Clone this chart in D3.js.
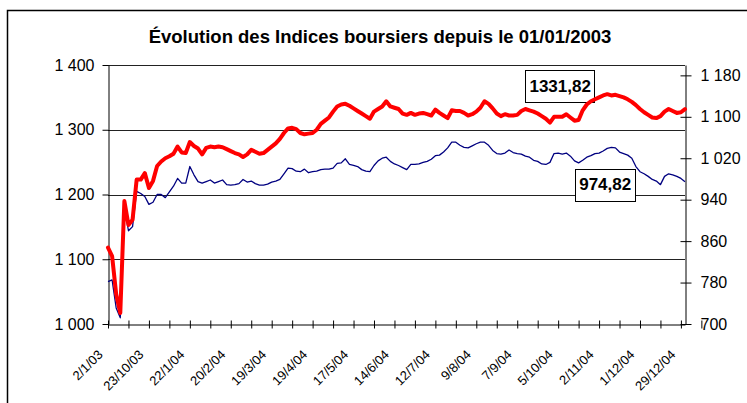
<!DOCTYPE html>
<html>
<head>
<meta charset="utf-8">
<script src="https://cdn.jsdelivr.net/npm/d3@7"></script>
<style>
body { margin: 0; background: #fff; }
svg { display: block; font-family: "Liberation Sans", Arial, sans-serif; }
</style>
</head>
<body>
<svg id="chart"></svg>
<script>
const width = 747;
const height = 403;

const title = "Évolution des Indices boursiers depuis le 01/01/2003";

// one label every 20 categories, one tick every 10
const dateLabels = ["2/1/03", "23/10/03", "22/1/04", "20/2/04", "19/3/04", "19/4/04", "17/5/04",
    "14/6/04", "12/7/04", "9/8/04", "7/9/04", "5/10/04", "2/11/04", "1/12/04", "29/12/04"];
const leftTicks = [1000, 1100, 1200, 1300, 1400];
const rightTicks = [700, 780, 860, 940, 1020, 1100, 1180];

// readings taken every 2 categories (trading days)
const step = 2;

// left axis series
const redValues = [
    1118, 1105, 1046, 1017, 1190, 1153, 1161, 1223, 1223, 1233,
    1210, 1221, 1244, 1251, 1256, 1259, 1263, 1274, 1265, 1264,
    1281, 1275, 1271, 1262, 1272, 1274, 1273, 1274, 1273, 1270,
    1267, 1264, 1262, 1258, 1262, 1269, 1266, 1263, 1264, 1269,
    1274, 1279, 1286, 1295, 1302, 1303, 1301, 1295, 1293, 1294,
    1295, 1300, 1309, 1314, 1319, 1328, 1336, 1339, 1340, 1337,
    1333, 1329, 1325, 1321, 1317, 1328, 1332, 1336, 1344, 1336,
    1334, 1332, 1325, 1323, 1326, 1323, 1325, 1326, 1324, 1322,
    1331, 1326, 1322, 1318, 1330, 1329, 1329, 1326, 1322, 1324,
    1328, 1334, 1344, 1340, 1333, 1325, 1321, 1324, 1322, 1322,
    1323, 1329, 1332, 1330, 1328, 1325, 1321, 1317, 1311, 1320,
    1320, 1320, 1324, 1319, 1314, 1315, 1330, 1339, 1344, 1347,
    1350, 1353, 1355, 1353, 1354, 1352, 1350, 1347, 1343, 1338,
    1332, 1327, 1323, 1319, 1318, 1321, 1328, 1332, 1329, 1326,
    1327, 1331.82
];

// right axis series
const blueValues = [
    782, 785, 731, 712, 925, 880, 888, 956, 952, 946,
    931, 935, 950, 950, 944, 955, 966, 981, 972, 972,
    1004, 988, 975, 972, 975, 978, 972, 975, 978, 969,
    968, 969, 971, 979, 974, 976, 971, 968, 968, 970,
    974, 976, 979, 990, 1001, 1000, 995, 994, 999, 992,
    994, 995, 998, 999, 999, 1001, 1010, 1011, 1019, 1008,
    1006, 1004, 998, 995, 994, 1006, 1015, 1020, 1022, 1014,
    1009, 1006, 1002, 998, 1008, 1008, 1009, 1012, 1014, 1018,
    1025, 1026, 1032, 1040, 1051, 1051, 1045, 1041, 1040, 1044,
    1048, 1051, 1051, 1045, 1035, 1029, 1028, 1030, 1036, 1031,
    1029, 1028, 1024, 1022, 1016, 1014, 1009, 1008, 1012, 1029,
    1030, 1028, 1030, 1024, 1015, 1011, 1016, 1022, 1025, 1029,
    1030, 1034, 1039, 1041, 1040, 1032, 1029, 1026, 1020, 1004,
    994, 990, 985, 979, 976, 969, 985, 990, 988, 985,
    981, 974.82
];

const plot = { left: 108, right: 685, top: 65, bottom: 324 };

const svg = d3.select("#chart")
    .attr("width", width)
    .attr("height", height);

const fr = d3.formatLocale({ decimal: ",", thousands: " ", grouping: [3], currency: ["", " €"] });
const fmtAxis = fr.format(",d");
const fmtLabel = fr.format(".2f");

const lastIndex = (redValues.length - 1) * step;
const x = d3.scaleLinear().domain([0, lastIndex]).range([plot.left, plot.right]);
const yL = d3.scaleLinear().domain([1000, 1400]).range([plot.bottom, plot.top]);
const yR = d3.scaleLinear().domain([700, 1200]).range([plot.bottom, plot.top]);

// frame of the chart area
svg.append("rect")
    .attr("x", 7.5).attr("y", 10.5)
    .attr("width", 780).attr("height", 420)
    .attr("fill", "#fff")
    .attr("stroke", "#000")
    .attr("stroke-width", 1.5);

svg.append("text")
    .attr("x", 380)
    .attr("y", 43)
    .attr("text-anchor", "middle")
    .attr("font-size", 18.5)
    .attr("font-weight", "bold")
    .text(title);

// gridlines
svg.append("g")
    .selectAll("line")
    .data(leftTicks.slice(1))
    .enter().append("line")
    .attr("x1", plot.left).attr("x2", plot.right)
    .attr("y1", d => Math.round(yL(d)) + 0.5)
    .attr("y2", d => Math.round(yL(d)) + 0.5)
    .attr("stroke", "#222")
    .attr("stroke-width", 1);

// left axis
const gLeft = svg.append("g")
    .attr("transform", `translate(${plot.left + 0.5},0)`)
    .call(d3.axisLeft(yL).tickValues(leftTicks).tickFormat(fmtAxis).tickSize(6).tickSizeOuter(0).tickPadding(8));

// right axis
const gRight = svg.append("g")
    .attr("transform", `translate(${plot.right + 0.5},0)`)
    .call(d3.axisRight(yR).tickValues(rightTicks).tickFormat(fmtAxis).tickSize(6).tickSizeOuter(0).tickPadding(9));
gRight.selectAll(".tick line").attr("x1", -5);

// category axis
const gBottom = svg.append("g")
    .attr("transform", `translate(0,${plot.bottom + 0.5})`)
    .call(d3.axisBottom(x)
        .tickValues(d3.range(0, dateLabels.length * 20, 10))
        .tickFormat(i => i % 20 === 0 ? dateLabels[i / 20] : "")
        .tickSize(4).tickSizeOuter(0));
gBottom.selectAll(".tick line").attr("y1", -4);
gBottom.selectAll(".tick text")
    .attr("x", 0).attr("y", 0).attr("dy", 0)
    .attr("text-anchor", "end")
    .attr("font-size", 13)
    .attr("transform", "translate(-5,31) rotate(-45)");

[gLeft, gRight, gBottom].forEach(g => {
    g.selectAll(".domain").attr("stroke", "#000");
    g.selectAll(".tick line").attr("stroke", "#000");
    g.selectAll(".tick text").attr("fill", "#000");
});
gLeft.selectAll(".tick text").attr("font-size", 16);
gRight.selectAll(".tick text").attr("font-size", 16);

// value callouts
function callout(text, cx, cy) {
    const g = svg.append("g");
    const t = g.append("text")
        .attr("x", cx).attr("y", cy)
        .attr("text-anchor", "middle")
        .attr("dominant-baseline", "central")
        .attr("font-size", 17)
        .attr("font-weight", "bold")
        .text(text);
    const b = t.node().getBBox();
    g.insert("rect", "text")
        .attr("x", Math.round(b.x - 4) + 0.5)
        .attr("y", Math.round(cy - 16) + 0.5)
        .attr("width", Math.round(b.width + 8))
        .attr("height", 32)
        .attr("fill", "#fff")
        .attr("stroke", "#000");
}
callout(fmtLabel(redValues[redValues.length - 1]), x(221), yL(1367));
callout(fmtLabel(blueValues[blueValues.length - 1]), x(243), yR(969));

// series
const lineRed = d3.line().x((d, i) => x(i * step)).y(d => yL(d));
const lineBlue = d3.line().x((d, i) => x(i * step)).y(d => yR(d));

svg.append("path")
    .datum(blueValues)
    .attr("d", lineBlue)
    .attr("fill", "none")
    .attr("stroke", "#000080")
    .attr("stroke-width", 1.3)
    .attr("stroke-linejoin", "round");

svg.append("path")
    .datum(redValues)
    .attr("d", lineRed)
    .attr("fill", "none")
    .attr("stroke", "#ff0000")
    .attr("stroke-width", 4)
    .attr("stroke-linejoin", "round")
    .attr("stroke-linecap", "round");
</script>
</body>
</html>
